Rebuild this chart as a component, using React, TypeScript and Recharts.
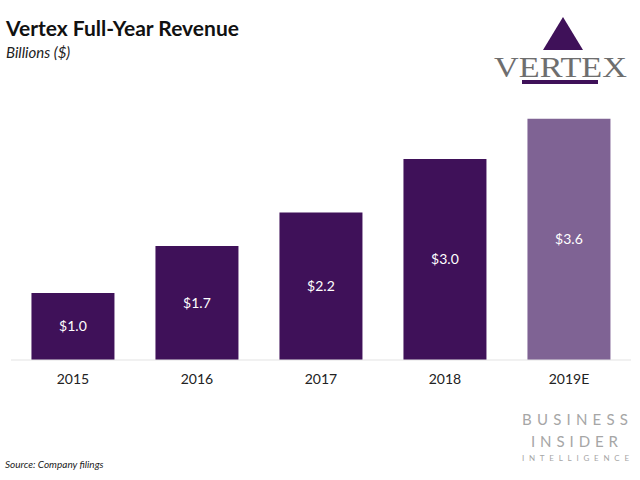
import React from 'react';
import { BarChart, Bar, XAxis, YAxis, LabelList, Cell } from 'recharts';

const years = ['2015', '2016', '2017', '2018', '2019E'];
const revenue = [1.0, 1.7, 2.2, 3.0, 3.6];
const valueLabels = ['$1.0', '$1.7', '$2.2', '$3.0', '$3.6'];
const barColors = ['#3f1159', '#3f1159', '#3f1159', '#3f1159', '#7f6394'];

const data = years.map((year, i) => ({ year, revenue: revenue[i], label: valueLabels[i] }));

const font = 'Lato, "Open Sans", sans-serif';

const App: React.FC = () => {
  return (
    <div style={{ position: 'fixed', left: 0, top: 0, width: 640, height: 480, background: '#fff', fontFamily: font }}>
      <BarChart
        width={640}
        height={480}
        data={data}
        margin={{ top: 92, right: 9, left: 11, bottom: 90 }}
        barCategoryGap="16.5%"
      >
        <XAxis
          dataKey="year"
          height={30}
          tickLine={false}
          axisLine={{ stroke: '#e3e3e3' }}
          tick={{ fontSize: 14, fill: '#222', fontFamily: font }}
          tickMargin={8}
        />
        <YAxis hide domain={[0, 4]} />
        <Bar dataKey="revenue" isAnimationActive={false}>
          {data.map((d, i) => (
            <Cell key={d.year} fill={barColors[i]} />
          ))}
          <LabelList dataKey="label" position="center" fill="#fff" fontSize={14} fontFamily={font} />
        </Bar>
      </BarChart>

      <svg width={640} height={480} style={{ position: 'absolute', left: 0, top: 0, pointerEvents: 'none' }}>
        <text x={6} y={36} fontSize={21} fontWeight={700} fill="#111" fontFamily={font}>
          Vertex Full-Year Revenue
        </text>
        <text x={6} y={58} fontSize={15} fontStyle="italic" fill="#222" fontFamily={font}>
          Billions ($)
        </text>
        <text x={5} y={468} fontSize={10} fontStyle="italic" fill="#222" fontFamily={font}>
          Source: Company filings
        </text>

        {/* Vertex logo */}
        <polygon points="563,17 543,50 583,50" fill="#3f1159" />
        <text x={494} y={77} fontSize={29} fill="#6e6e6e" fontFamily='"Liberation Serif", "DejaVu Serif", serif' textLength={133} lengthAdjust="spacingAndGlyphs">
          VERTEX
        </text>
        <rect x={522} y={80} width={76} height={4} fill="#3f1159" />

        {/* Business Insider Intelligence */}
        <text x={522} y={425} fontSize={15} fill="#a6a6a6" fontFamily={font} textLength={106} lengthAdjust="spacing">
          BUSINESS
        </text>
        <text x={531} y={447} fontSize={15} fill="#a6a6a6" fontFamily={font} textLength={87} lengthAdjust="spacing">
          INSIDER
        </text>
        <text x={522} y={461} fontSize={8} fill="#a6a6a6" fontFamily={font} textLength={107} lengthAdjust="spacing">
          INTELLIGENCE
        </text>
      </svg>
    </div>
  );
};

export default App;
